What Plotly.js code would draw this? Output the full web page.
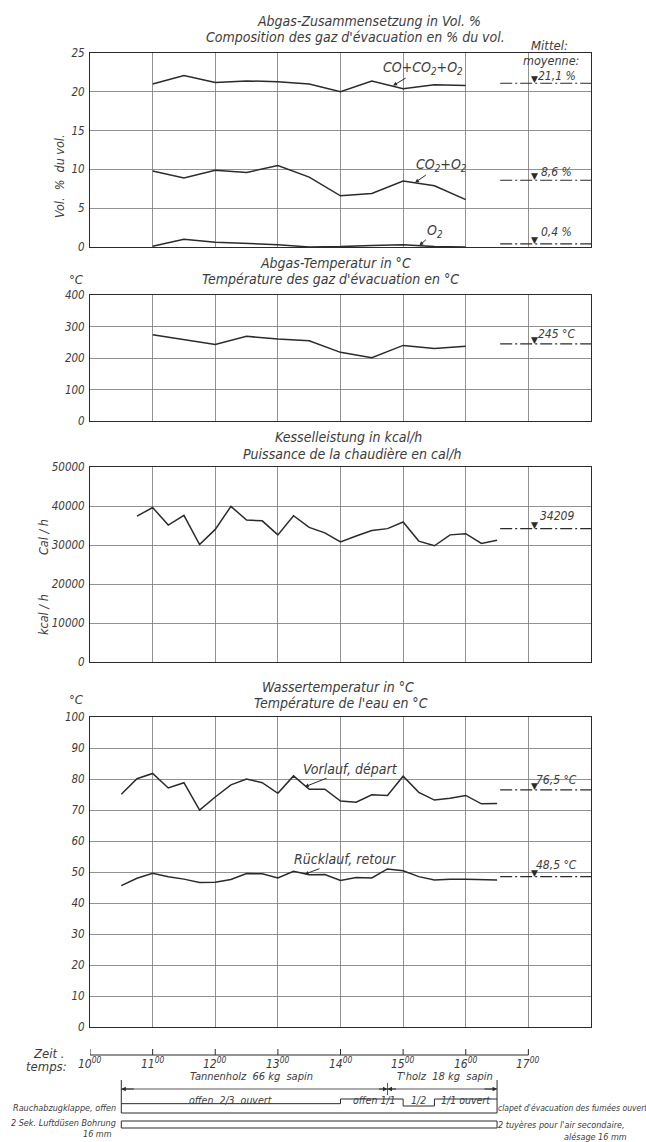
<!DOCTYPE html>
<html><head><meta charset="utf-8">
<script src="https://cdn.plot.ly/plotly-3.0.1.min.js"></script>
<style>html,body{margin:0;padding:0;background:#fff}#chart{width:646px;height:1142px}</style>
</head><body><div id="chart"></div>
<script>
// ---------------- data ----------------
const gasTimes = [11, 11.5, 12, 12.5, 13, 13.5, 14, 14.5, 15, 15.5, 16];
const gasTotal = [21.0, 22.1, 21.2, 21.4, 21.3, 21.0, 20.0, 21.4, 20.4, 20.9, 20.8];
const gasCO2O2 = [9.8, 8.9, 9.9, 9.6, 10.5, 9.0, 6.6, 6.9, 8.5, 7.9, 6.1];
const gasO2 = [0.1, 1.0, 0.6, 0.45, 0.3, 0.0, 0.05, 0.2, 0.3, 0.05, 0.0];
const gasMeans = [21.1, 8.6, 0.4];
const gasMeanLabels = ['21,1 %', '8,6 %', '0,4 %'];

const fluTimes = [11, 12, 12.5, 13, 13.5, 14, 14.5, 15, 15.5, 16];
const fluTemp = [274, 243, 269, 260, 255, 218, 201, 240, 230, 237];
const fluMean = 245;
const fluMeanLabel = '245 °C';

const powerTimes = [10.75, 11, 11.25, 11.5, 11.75, 12, 12.25, 12.5, 12.75, 13, 13.25, 13.5,
                    13.75, 14, 14.25, 14.5, 14.75, 15, 15.25, 15.5, 15.75, 16, 16.25, 16.5];
const power = [37400, 39600, 35100, 37600, 30100, 34000, 39900, 36400, 36200, 32600, 37500, 34500,
               33100, 30800, 32300, 33700, 34200, 35900, 31000, 29800, 32600, 32900, 30400, 31200];
const powerMean = 34209;
const powerMeanLabel = '34209';

const waterTimes = [10.5, 10.75, 11, 11.25, 11.5, 11.75, 12, 12.25, 12.5, 12.75, 13, 13.25, 13.5,
                    13.75, 14, 14.25, 14.5, 14.75, 15, 15.25, 15.5, 15.75, 16, 16.25, 16.5];
const waterSupply = [75.1, 80.1, 81.8, 77.1, 78.8, 70.0, 74.2, 78.1, 80.0, 78.8, 75.4, 81.0, 76.7,
                     76.7, 72.9, 72.5, 74.9, 74.7, 80.9, 75.7, 73.2, 73.8, 74.7, 72.0, 72.1];
const waterReturn = [45.6, 48.0, 49.6, 48.5, 47.7, 46.6, 46.7, 47.6, 49.5, 49.4, 48.1, 50.2, 49.1,
                     49.2, 47.3, 48.2, 48.1, 51.0, 50.4, 48.5, 47.4, 47.7, 47.7, 47.6, 47.4];
const waterMeans = [76.5, 48.5];
const waterMeanLabels = ['76,5 °C', '48,5 °C'];

const meanSpan = [16.55, 18];
const meanMarkX = 17.1;
const meanLabelX = 17.45;

const timeHours = [10, 11, 12, 13, 14, 15, 16, 17];
const timeLabels = ['10<sup>00</sup>', '11<sup>00</sup>', '12<sup>00</sup>', '13<sup>00</sup>',
                    '14<sup>00</sup>', '15<sup>00</sup>', '16<sup>00</sup>', '17<sup>00</sup>'];
const fuelTimes = [10.5, 14.75, 16.5];
const fuelLabels = ['Tannenholz  66 kg  sapin', "T'holz  18 kg  sapin"];
const damperTimes = [10.5, 14, 15, 15.5, 16.5];
const damperOpening = [2/3, 1, 1/2, 1];
const damperLabels = ['offen  2/3  ouvert', 'offen 1/1', '1/2', '1/1 ouvert'];
const airTimes = [10.5, 16.5];

// ---------------- styling ----------------
const W = 646, H = 1142;
const px = v => v / W;
const py = v => 1 - v / H;
const FONT = "'Liberation Sans Narrow', 'DejaVu Sans Condensed', 'Liberation Sans', sans-serif";
const INK = '#2b2b2b';
const TXT = '#3c3c3c';
const GRID = '#777777';
const f = (size) => ({family: FONT, size: size, color: TXT, style: 'italic'});

const xDom = [px(90), px(591)];
const yDoms = [[py(247), py(53)], [py(421), py(295)], [py(662), py(467)], [py(1027), py(717)]];
const yRanges = [[0, 25], [0, 400], [0, 50000], [0, 100]];
const yDticks = [5, 100, 10000, 10];

const layout = {
  width: W, height: H, margin: {l: 0, r: 0, t: 0, b: 0},
  paper_bgcolor: '#fff', plot_bgcolor: '#fff', showlegend: false,
  font: f(12), annotations: [], shapes: []
};
for (let i = 0; i < 4; i++) {
  const s = i === 0 ? '' : String(i + 1);
  layout['xaxis' + s] = {
    domain: xDom, range: [10, 18], anchor: 'y' + s, tick0: 10, dtick: 1,
    showgrid: true, gridcolor: GRID, gridwidth: 0.8, showticklabels: false,
    showline: true, mirror: true, linecolor: INK, linewidth: 1, zeroline: false, ticks: ''
  };
  layout['yaxis' + s] = {
    domain: yDoms[i], range: yRanges[i], anchor: 'x' + s, tick0: 0, dtick: yDticks[i],
    tickformat: 'd', showgrid: true, gridcolor: GRID, gridwidth: 0.8,
    showline: true, mirror: true, linecolor: INK, linewidth: 1, zeroline: false, ticks: '',
    tickfont: f(11.5), ticklabelstandoff: 2
  };
}

const traces = [];
function series(x, y, ax) {
  traces.push({x: x, y: y, xaxis: 'x' + ax, yaxis: 'y' + ax, mode: 'lines',
               line: {color: INK, width: 1.5}, hoverinfo: 'skip'});
}
function mean(v, label, ax, shift) {
  const xa = 'x' + ax, ya = 'y' + ax;
  traces.push({x: meanSpan, y: [v, v], xaxis: xa, yaxis: ya, mode: 'lines',
               line: {color: INK, width: 1.2, dash: '12px,3px,2px,3px'}, hoverinfo: 'skip'});
  layout.annotations.push({x: meanMarkX, y: v, xref: xa, yref: ya, text: '▼', showarrow: false,
               yanchor: 'bottom', yshift: -3, font: {family: 'DejaVu Sans', size: 9, color: INK}});
  layout.annotations.push({x: meanLabelX, y: v, xref: xa, yref: ya, text: label, showarrow: false,
               yanchor: 'middle', yshift: shift, font: f(12)});
}

series(gasTimes, gasTotal, '');
series(gasTimes, gasCO2O2, '');
series(gasTimes, gasO2, '');
mean(gasMeans[0], gasMeanLabels[0], '', 7);
mean(gasMeans[1], gasMeanLabels[1], '', 8);
mean(gasMeans[2], gasMeanLabels[2], '', 12);
series(fluTimes, fluTemp, '2');
mean(fluMean, fluMeanLabel, '2', 10);
series(powerTimes, power, '3');
mean(powerMean, powerMeanLabel, '3', 13);
series(waterTimes, waterSupply, '4');
series(waterTimes, waterReturn, '4');
mean(waterMeans[0], waterMeanLabels[0], '4', 10);
mean(waterMeans[1], waterMeanLabels[1], '4', 12);

const A = layout.annotations;
function ptext(x, y, text, size, opts) {
  A.push(Object.assign({x: px(x), y: py(y), xref: 'paper', yref: 'paper', text: text,
    showarrow: false, font: f(size), xanchor: 'center', yanchor: 'middle'}, opts || {}));
}
// titles
ptext(369, 21, 'Abgas-Zusammensetzung in Vol. %', 14);
ptext(355, 37, "Composition des gaz d'évacuation en % du vol.", 14);
ptext(549, 45, 'Mittel:', 13);
ptext(551, 61, 'moyenne:', 12.5);
ptext(60, 176, 'Vol.  %  du vol.', 12.5, {textangle: -90});
ptext(335, 263, 'Abgas-Temperatur in °C', 14);
ptext(330, 279, "Température des gaz d'évacuation en °C", 14);
ptext(76, 279, '°C', 13);
ptext(348, 437, 'Kesselleistung in kcal/h', 14);
ptext(352, 454, 'Puissance de la chaudière en cal/h', 14);
ptext(43, 537, 'Cal / h', 12.5, {textangle: -90});
ptext(43, 615, 'kcal / h', 12.5, {textangle: -90});
ptext(338, 687, 'Wassertemperatur in °C', 14);
ptext(341, 703, "Température de l'eau en °C", 14);
ptext(76, 699, '°C', 13);

// series labels with arrows
function lab(x, y, ax, text, dx, dy) {
  A.push({x: x, y: y, xref: 'x' + ax, yref: 'y' + ax, text: text, ax: dx, ay: dy,
    showarrow: true, arrowhead: 2, arrowsize: 0.8, arrowwidth: 1, arrowcolor: INK,
    font: f(14), standoff: 0});
}
lab(14.84, 20.8, '', 'CO+CO<sub>2</sub>+O<sub>2</sub>', 30, -18);
lab(15.19, 8.3, '', 'CO<sub>2</sub>+O<sub>2</sub>', 26, -18);
lab(15.26, 0.2, '', 'O<sub>2</sub>', 16, -14);
lab(13.43, 77.5, '4', 'Vorlauf, départ', 46, -18);
lab(13.43, 49.3, '4', 'Rücklauf, retour', 40, -15);

// ---------------- time strip ----------------
const S = layout.shapes;
const ln = (x0, y0, x1, y1, w) => S.push({type: 'line', xref: 'x4', yref: 'paper',
  x0: x0, x1: x1, y0: py(y0), y1: py(y1), line: {color: INK, width: w || 1}});
ln(timeHours[0], 1055, timeHours[timeHours.length - 1], 1055);
timeHours.forEach((h, i) => {
  ln(h, 1055, h, 1049);
  A.push({x: h, y: py(1063), xref: 'x4', yref: 'paper', text: timeLabels[i], showarrow: false,
          font: f(12), xanchor: 'center', yanchor: 'middle'});
});
ptext(48, 1053, 'Zeit .', 13);
ptext(47, 1066, 'temps:', 13);

// fuel
ln(fuelTimes[0], 1089, fuelTimes[2], 1089, 0.8);
ln(fuelTimes[0], 1080, fuelTimes[0], 1113);
ln(fuelTimes[2], 1080, fuelTimes[2], 1113);
ln(fuelTimes[1], 1083, fuelTimes[1], 1095, 0.8);
const arr = (x, dx) => A.push({x: x, y: py(1089), xref: 'x4', yref: 'paper', text: '', ax: dx, ay: 0,
  showarrow: true, arrowhead: 2, arrowsize: 0.9, arrowwidth: 1, arrowcolor: INK, standoff: 0});
arr(fuelTimes[0], 14); arr(fuelTimes[1], -10); arr(fuelTimes[1], 10); arr(fuelTimes[2], -14);
for (let i = 0; i < 2; i++) {
  A.push({x: (fuelTimes[i] + fuelTimes[i + 1]) / 2 + (i === 0 ? -0.05 : 0.05), y: py(1085),
          xref: 'x4', yref: 'paper', text: fuelLabels[i], showarrow: false, font: f(11)});
}

// damper band
const bandBottom = 1113, bandFull = 14;
ln(damperTimes[0], bandBottom, damperTimes[damperTimes.length - 1], bandBottom);
for (let i = 0; i < damperOpening.length; i++) {
  const top = bandBottom - damperOpening[i] * bandFull;
  ln(damperTimes[i], top, damperTimes[i + 1], top);
  if (i > 0) {
    const prev = bandBottom - damperOpening[i - 1] * bandFull;
    ln(damperTimes[i], prev, damperTimes[i], top);
  }
  const mid = (damperTimes[i] + damperTimes[i + 1]) / 2;
  A.push({x: mid + (i === 1 ? 0.05 : 0), y: py(1108), xref: 'x4', yref: 'paper',
          text: damperLabels[i], showarrow: false, font: f(10.5)});
}
ptext(118, 1108, 'Rauchabzugklappe, offen', 9, {xanchor: 'right'});
ptext(496, 1108, "clapet d'évacuation des fumées ouvert", 8.5, {xanchor: 'left'});

// secondary air band
S.push({type: 'rect', xref: 'x4', yref: 'paper', x0: airTimes[0], x1: airTimes[1],
        y0: py(1128), y1: py(1121), line: {color: INK, width: 1}});
ptext(118, 1123, '2 Sek. Luftdüsen Bohrung', 9, {xanchor: 'right'});
ptext(97, 1134, '16 mm', 9);
ptext(496, 1125, "2 tuyères pour l'air secondaire,", 9, {xanchor: 'left'});
ptext(595, 1137, 'alésage 16 mm', 9);

Plotly.newPlot('chart', traces, layout, {staticPlot: true, displayModeBar: false});
</script>
</body></html>
